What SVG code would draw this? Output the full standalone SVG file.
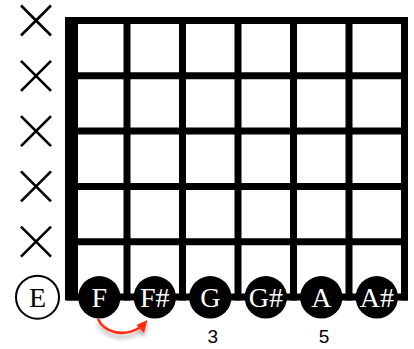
<svg xmlns="http://www.w3.org/2000/svg" width="414" height="349" viewBox="0 0 414 349">
<defs>
<style>
.grid line{stroke:#000;stroke-width:7;stroke-linecap:square}
.x line{stroke:#000;stroke-width:2.6;stroke-linecap:butt}
.note circle{fill:#000}
.note text{fill:#fff;font-family:"Liberation Serif","Times New Roman",serif;font-size:28px;text-anchor:middle}
.open circle{fill:#fff;stroke:#000;stroke-width:2}
.open text{fill:#000;font-family:"Liberation Serif","Times New Roman",serif;font-size:28px;text-anchor:middle}
.num{fill:#000;font-family:"Liberation Sans",Arial,sans-serif;font-size:19px;text-anchor:middle}
</style>
<filter id="sh" x="-20%" y="-50%" width="140%" height="220%">
<feDropShadow dx="0" dy="4" stdDeviation="2.2" flood-color="#000" flood-opacity="0.35"/>
</filter>
</defs>
<g id="fretboard" class="grid">
<rect x="65" y="17" width="13" height="283.5" fill="#000"/>
<line x1="71" y1="20.5" x2="404.5" y2="20.5"/>
<line x1="71" y1="75.8" x2="404.5" y2="75.8"/>
<line x1="71" y1="131.1" x2="404.5" y2="131.1"/>
<line x1="71" y1="186.4" x2="404.5" y2="186.4"/>
<line x1="71" y1="241.7" x2="404.5" y2="241.7"/>
<line x1="71" y1="297" x2="404.5" y2="297"/>
<line x1="127" y1="20.5" x2="127" y2="297"/>
<line x1="182.5" y1="20.5" x2="182.5" y2="297"/>
<line x1="238" y1="20.5" x2="238" y2="297"/>
<line x1="293.5" y1="20.5" x2="293.5" y2="297"/>
<line x1="349" y1="20.5" x2="349" y2="297"/>
<line x1="404.5" y1="20.5" x2="404.5" y2="297"/>
</g>
<g id="mutes" class="x">
<g id="x1"><line x1="21" y1="5.5" x2="51" y2="35.5"/><line x1="51" y1="5.5" x2="21" y2="35.5"/></g>
<g id="x2"><line x1="21" y1="60.8" x2="51" y2="90.8"/><line x1="51" y1="60.8" x2="21" y2="90.8"/></g>
<g id="x3"><line x1="21" y1="116.1" x2="51" y2="146.1"/><line x1="51" y1="116.1" x2="21" y2="146.1"/></g>
<g id="x4"><line x1="21" y1="171.4" x2="51" y2="201.4"/><line x1="51" y1="171.4" x2="21" y2="201.4"/></g>
<g id="x5"><line x1="21" y1="226.7" x2="51" y2="256.7"/><line x1="51" y1="226.7" x2="21" y2="256.7"/></g>
</g>
<g id="note-E" class="open"><circle cx="37.5" cy="297.2" r="21.5"/><text x="37.5" y="306.5">E</text></g>
<g id="note-F" class="note"><circle cx="99.3" cy="297.3" r="21.2"/><text x="99.3" y="306.5">F</text></g>
<g id="note-Fs" class="note"><circle cx="154.8" cy="297.3" r="21.2"/><text x="154.8" y="306.5">F#</text></g>
<g id="note-G" class="note"><circle cx="210.3" cy="297.3" r="21.2"/><text x="210.3" y="306.5">G</text></g>
<g id="note-Gs" class="note"><circle cx="265.8" cy="297.3" r="21.2"/><text x="265.8" y="306.5">G#</text></g>
<g id="note-A" class="note"><circle cx="321.3" cy="297.3" r="21.2"/><text x="321.3" y="306.5">A</text></g>
<g id="note-As" class="note"><circle cx="376.8" cy="297.3" r="21.2"/><text x="376.8" y="306.5">A#</text></g>
<g id="fret-numbers">
<text class="num" x="212.7" y="343.3">3</text>
<text class="num" x="324" y="343.3">5</text>
</g>
<g id="connectors" filter="url(#sh)">
<path d="M98,319 C104,332 122,338 140,327.5" fill="none" stroke="#ff2a0c" stroke-width="2.6"/>
<polygon points="147.5,320 136.5,325 144,333" fill="#ff2a0c"/>
</g>
</svg>
